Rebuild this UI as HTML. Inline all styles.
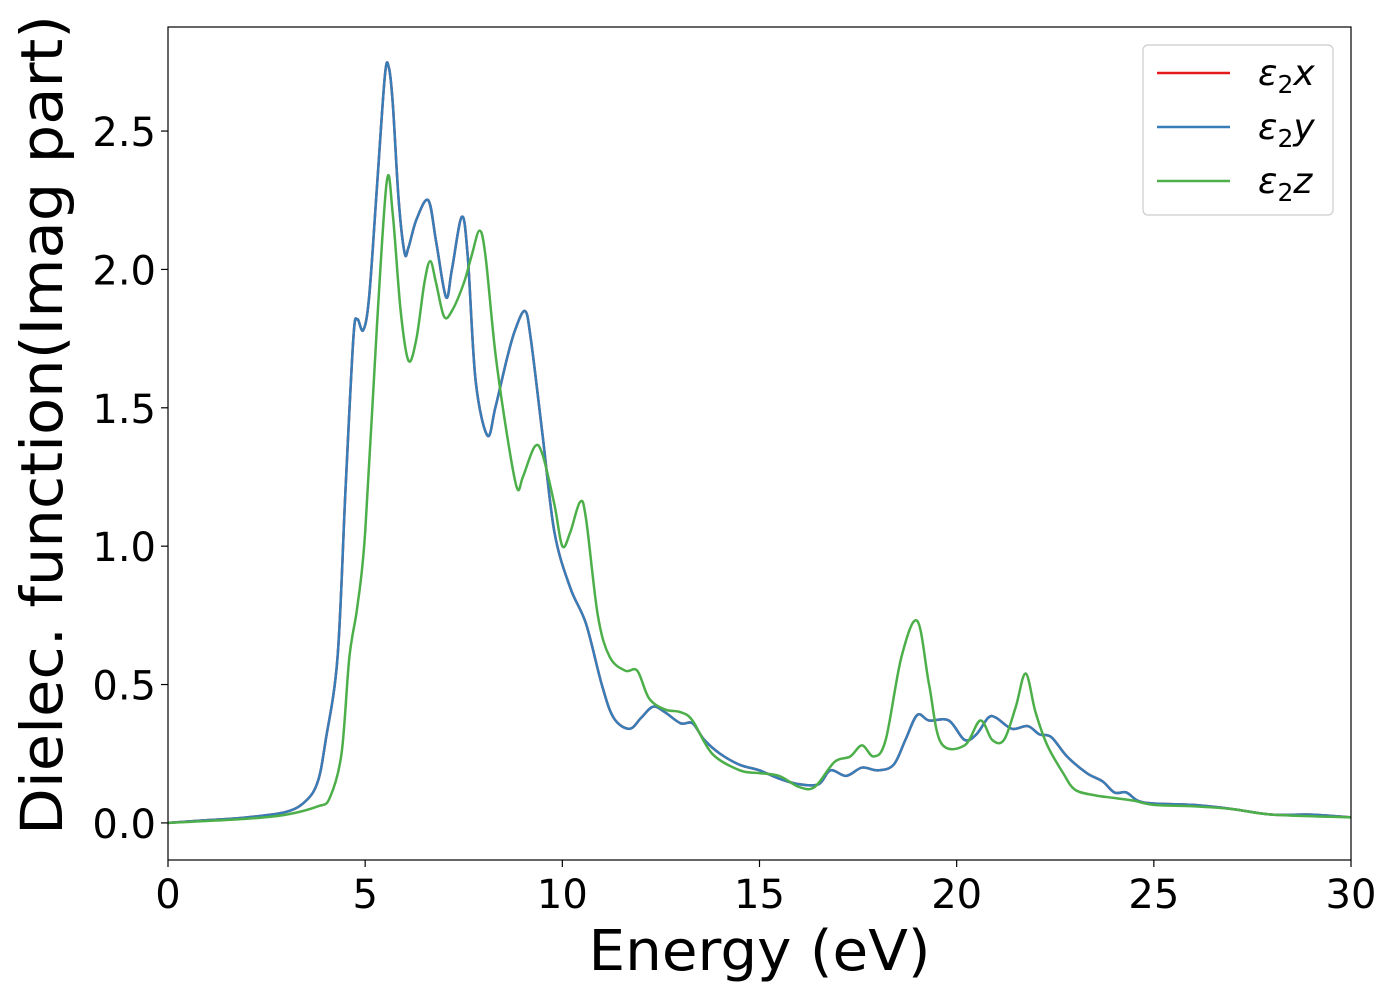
<!DOCTYPE html>
<html><head><meta charset="utf-8"><style>
html,body{margin:0;padding:0;background:#fff}
svg{display:block;font-family:"DejaVu Sans","Liberation Sans",sans-serif}
</style></head><body>
<svg id="chart" width="1400" height="1000" xmlns="http://www.w3.org/2000/svg"></svg>
<script>
const xTicks=[0,5,10,15,20,25,30];
const yTicks=[0.0,0.5,1.0,1.5,2.0,2.5];
const yTickLabels=["0.0","0.5","1.0","1.5","2.0","2.5"];
const energyXY=[0,1,2,3,3.5,3.8,4.0,4.3,4.5,4.7,4.8,4.95,5.1,5.3,5.5,5.6,5.7,5.85,6.0,6.1,6.3,6.6,6.8,7.05,7.2,7.45,7.6,7.8,8.1,8.3,8.6,8.8,9.05,9.2,9.5,9.8,10.2,10.6,11.0,11.3,11.7,12.0,12.3,12.6,13.0,13.3,13.6,14.0,14.5,15,15.5,16,16.5,16.8,17.2,17.6,18,18.4,18.7,19.0,19.3,19.8,20.2,20.5,20.8,21.0,21.4,21.8,22.1,22.4,22.8,23.3,23.7,24.0,24.3,24.6,25,26,27,28,29,30];
const eps2xy=[0,0.01,0.02,0.04,0.08,0.15,0.3,0.6,1.2,1.75,1.82,1.78,1.9,2.3,2.7,2.73,2.6,2.25,2.06,2.08,2.18,2.25,2.1,1.9,2.0,2.19,2.05,1.6,1.4,1.5,1.68,1.78,1.85,1.75,1.4,1.05,0.85,0.72,0.5,0.38,0.34,0.38,0.42,0.4,0.36,0.36,0.3,0.25,0.21,0.19,0.16,0.14,0.14,0.19,0.17,0.2,0.19,0.21,0.3,0.39,0.37,0.37,0.3,0.32,0.38,0.38,0.34,0.35,0.32,0.31,0.24,0.18,0.15,0.11,0.11,0.08,0.07,0.065,0.05,0.03,0.03,0.02];
const energyZ=[0,2,3,3.8,4.1,4.4,4.6,4.8,5.0,5.3,5.55,5.7,5.9,6.1,6.3,6.5,6.65,6.8,7.0,7.2,7.5,7.7,7.9,8.05,8.3,8.6,8.85,9.0,9.3,9.5,9.8,10.0,10.2,10.45,10.6,10.9,11.2,11.6,11.9,12.2,12.6,13.0,13.3,13.8,14.5,15,15.5,16,16.4,16.9,17.3,17.6,17.9,18.2,18.6,19.0,19.3,19.6,20.2,20.6,20.9,21.2,21.5,21.75,22.0,22.3,22.7,23,23.5,24,24.5,25,26,27,28,30];
const eps2z=[0,0.015,0.03,0.06,0.09,0.25,0.6,0.78,1.05,1.8,2.32,2.2,1.85,1.67,1.75,1.95,2.03,1.95,1.83,1.85,1.95,2.05,2.14,2.05,1.7,1.4,1.21,1.25,1.36,1.33,1.15,1.0,1.05,1.16,1.1,0.75,0.6,0.55,0.55,0.45,0.41,0.4,0.37,0.25,0.19,0.18,0.17,0.13,0.13,0.22,0.24,0.28,0.24,0.3,0.6,0.73,0.5,0.29,0.28,0.37,0.3,0.3,0.42,0.54,0.4,0.28,0.18,0.12,0.1,0.09,0.08,0.065,0.06,0.05,0.03,0.02];

const NS="http://www.w3.org/2000/svg";
const svg=document.getElementById('chart');
const L=168,R=1351,T=27,B=860;
const xMin=0,xMax=30,yMin=-0.134,yMax=2.876;
const sx=v=>L+(v-xMin)/(xMax-xMin)*(R-L);
const sy=v=>B-(v-yMin)/(yMax-yMin)*(B-T);
function el(tag,attrs,parent){const e=document.createElementNS(NS,tag);for(const k in attrs)e.setAttribute(k,attrs[k]);(parent||svg).appendChild(e);return e;}
function smooth(xs,ys){
  const p=xs.map((x,i)=>[sx(x),sy(ys[i])]);
  let d=`M${p[0][0]},${p[0][1]}`;
  for(let i=0;i<p.length-1;i++){
    const p0=p[i-1]||p[i],p1=p[i],p2=p[i+1],p3=p[i+2]||p2;
    const c1=[p1[0]+(p2[0]-p0[0])/6,p1[1]+(p2[1]-p0[1])/6];
    const c2=[p2[0]-(p3[0]-p1[0])/6,p2[1]-(p3[1]-p1[1])/6];
    d+=`C${c1[0]},${c1[1]} ${c2[0]},${c2[1]} ${p2[0]},${p2[1]}`;
  }
  return d;
}
const defs=el('defs',{});
const cp=el('clipPath',{id:'clip'},defs);
el('rect',{x:L,y:T,width:R-L,height:B-T},cp);
const plot=el('g',{'clip-path':'url(#clip)'});


const series=[[energyXY,eps2xy,'#e41a1c','series-eps2x'],[energyXY,eps2xy,'#377eb8','series-eps2y'],[energyZ,eps2z,'#4daf4a','series-eps2z']];
series.forEach(s=>{
  const p=el('path',{d:smooth(s[0],s[1]),fill:'none',stroke:s[2],'stroke-width':2.5,'stroke-linejoin':'round'},plot);
  
  
});
const frame=el('rect',{x:L,y:T,width:R-L,height:B-T,fill:'none',stroke:'#000','stroke-width':1.2});


xTicks.forEach(v=>{
  el('line',{x1:sx(v),x2:sx(v),y1:B,y2:B+7,stroke:'#000','stroke-width':1.2});
  const t=el('text',{x:sx(v),y:B+48,'text-anchor':'middle','font-size':40});
  t.textContent=v;
  
  
});
yTicks.forEach((v,i)=>{
  el('line',{x1:L-7,x2:L,y1:sy(v),y2:sy(v),stroke:'#000','stroke-width':1.2});
  const t=el('text',{x:L-12,y:sy(v)+15,'text-anchor':'end','font-size':40});
  t.textContent=yTickLabels[i];
  
  
});
const xt=el('text',{x:(L+R)/2,y:970,'text-anchor':'middle','font-size':56,textLength:342,lengthAdjust:'spacingAndGlyphs'});
xt.textContent='Energy (eV)';


const yt=el('text',{x:0,y:0,'text-anchor':'middle','font-size':58,textLength:820,lengthAdjust:'spacingAndGlyphs',transform:`translate(62,425) rotate(-90)`});
yt.textContent='Dielec. function(Imag part)';


const lg=el('g',{});


el('rect',{x:1143,y:45,width:190,height:170,rx:5,fill:'#fff',stroke:'#ccc','stroke-width':1.2},lg);
const labels=['x','y','z'];
series.forEach((s,i)=>{
  const y=73+i*54;
  const g=el('g',{},lg);
  
  
  el('line',{x1:1157,x2:1230,y1:y,y2:y,stroke:s[2],'stroke-width':2.5},g);
  const t=el('text',{x:1258,y:y+12,'font-size':36,'font-style':'italic'},g);
  t.textContent='ε';
  const sub=el('tspan',{'font-size':25,'font-style':'normal',dy:8},t);
  sub.textContent='2';
  const v=el('tspan',{dy:-8},t);
  v.textContent=labels[i];
});
</script>
</body></html>
